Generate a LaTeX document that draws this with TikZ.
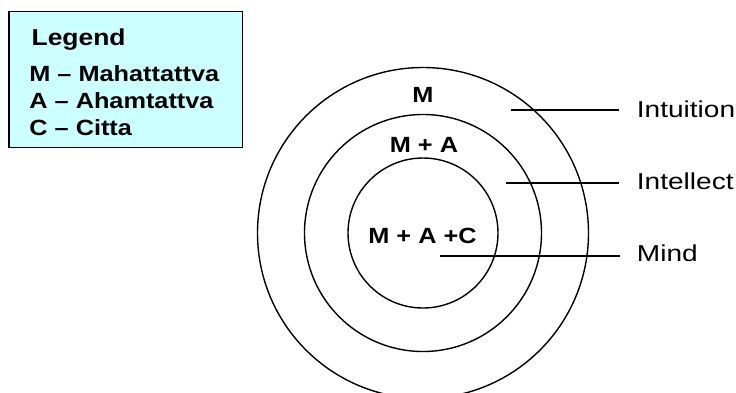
\documentclass[tikz,border=0pt]{standalone}
\usepackage{fontspec}
\setmainfont{Liberation Sans}
\newfontfamily\regw[FakeStretch=1.22]{Liberation Sans}
\newfontfamily\boldw[FakeStretch=1.15]{Liberation Sans Bold}
\definecolor{legfill}{HTML}{CCFFFF}
\begin{document}
\begin{tikzpicture}[x=1pt,y=-1pt,
  ring/.style={circle, draw, line width=1.4pt, inner sep=0pt},
  conn/.style={line width=1.4pt},
  lab/.style={font=\regw\fontsize{23}{27}\selectfont, inner sep=0pt, anchor=base west},
  leg/.style={font=\boldw\fontsize{22}{26}\selectfont, inner sep=0pt, anchor=base west},
  zone/.style={font=\boldw\fontsize{22}{26}\selectfont, inner sep=0pt, anchor=base}]
\useasboundingbox (0,0) rectangle (736,392);
% legend
\node[draw, fill=legfill, line width=1.2pt, minimum width=233.5pt, minimum height=136pt,
      anchor=north west, inner sep=0pt] (legend) at (8.3,10.7) {};
\node[leg, font=\boldw\fontsize{23}{27}\selectfont] (legtitle) at (31.4,45.7) {Legend};
\node[leg] (legm) at (29.2,81) {M – Mahattattva};
\node[leg] (lega) at (29.2,108.5) {A – Ahamtattva};
\node[leg] (legc) at (29.2,135.5) {C – Citta};
% rings
\node[ring, minimum size=331pt] (outer) at (423,233) {};
\node[ring, minimum size=237pt] (middle) at (423,233) {};
\node[ring, minimum size=150pt] (inner) at (423,233) {};
% zone labels
\node[zone] (zm) at (423,102.5) {M};
\node[zone] (zma) at (424,152) {M + A};
\node[zone] (zmac) at (422.5,243.5) {M + A +C};
% side labels
\node[lab] (intuition) at (636.7,117.3) {Intuition};
\node[lab] (intellect) at (636.7,189.7) {Intellect};
\node[lab] (mind) at (636.7,261.7) {Mind};
% connectors
\coordinate (s1) at (511,110);
\coordinate (s2) at (506,183);
\coordinate (s3) at (440,256);
\draw[conn, shorten >=17.5pt] (s1) -- (s1 -| intuition.west);
\draw[conn, shorten >=17.5pt] (s2) -- (s2 -| intellect.west);
\draw[conn, shorten >=17pt] (s3) -- (s3 -| mind.west);
\end{tikzpicture}
\end{document}
